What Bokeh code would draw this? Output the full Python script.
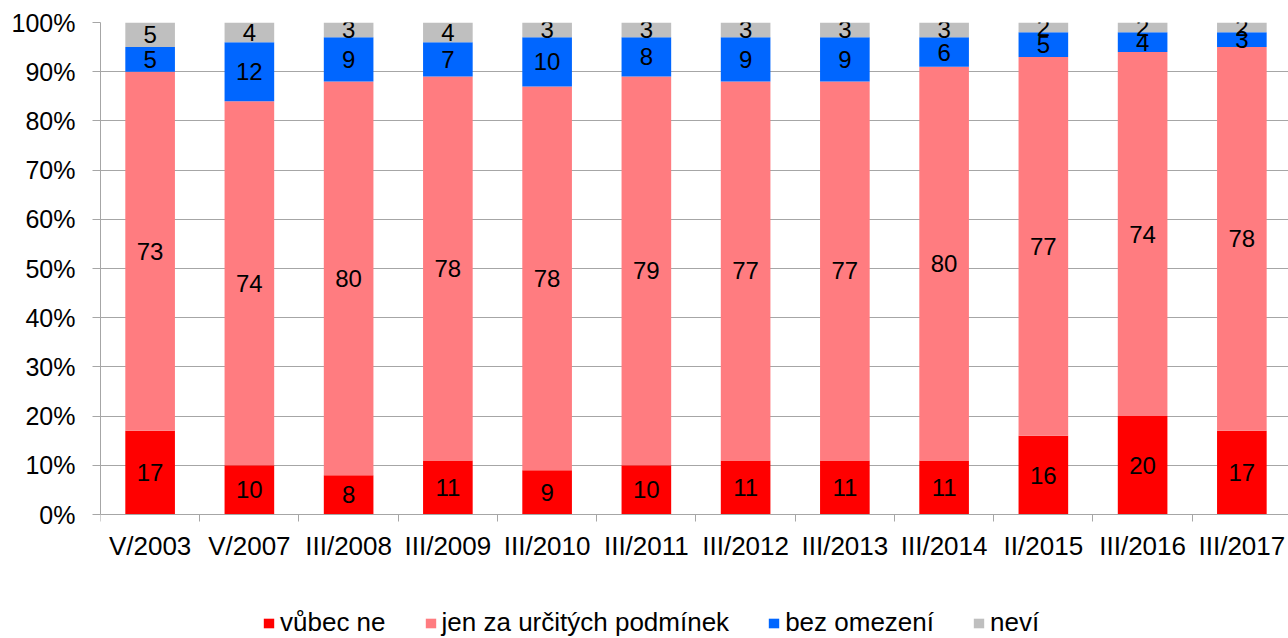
from bokeh.plotting import figure
from bokeh.models import (ColumnDataSource, FixedTicker, PrintfTickFormatter, Legend, LegendItem,
                          Range1d, LinearAxis)
from bokeh.core.properties import value
from bokeh.embed import file_html
from bokeh.resources import INLINE

categories = ["V/2003", "V/2007", "III/2008", "III/2009", "III/2010", "III/2011",
              "III/2012", "III/2013", "III/2014", "II/2015", "III/2016", "III/2017"]
vubec_ne = [17, 10, 8, 11, 9, 10, 11, 11, 11, 16, 20, 17]
jen_za = [73, 74, 80, 78, 78, 79, 77, 77, 80, 77, 74, 78]
bez_omezeni = [5, 12, 9, 7, 10, 8, 9, 9, 6, 5, 4, 3]
nevi = [5, 4, 3, 4, 3, 3, 3, 3, 3, 2, 2, 2]

series_names = ["vůbec ne", "jen za určitých podmínek", "bez omezení", "neví"]
series_keys = ["s0", "s1", "s2", "s3"]
colors = ["#FF0000", "#FF7C80", "#0066FF", "#BFBFBF"]
series = [vubec_ne, jen_za, bez_omezeni, nevi]

FONT = "Liberation Sans"
GRAY = "#A6A6A6"

xs = [i + 0.5 for i in range(len(categories))]
data = {"x": xs}
for k, s in zip(series_keys, series):
    data[k] = s
source = ColumnDataSource(data)

p = figure(width=1288, height=638, output_backend="svg", toolbar_location=None,
           x_range=Range1d(0, 11.97), y_range=Range1d(-25.2, 100),
           x_axis_location=None)
p.min_border_left = 100
p.min_border_right = 0
p.min_border_top = 22
p.min_border_bottom = 0
p.outline_line_color = None
p.background_fill_color = "white"

renderers = p.vbar_stack(series_keys, x="x", width=0.5, color=colors, line_color=None, source=source)

# labels
for idx, (k, s) in enumerate(zip(series_keys, series)):
    mids = []
    for j in range(len(categories)):
        base = sum(series[m][j] for m in range(idx))
        mids.append(base + s[j] / 2.0)
    lsrc = ColumnDataSource({"x": xs, "y": mids, "t": [str(v) for v in s]})
    p.text(x="x", y="y", text="t", source=lsrc, text_align="center", text_baseline="middle",
           text_font=value(FONT), text_font_size="24px", text_color="black")

# y axis
p.yaxis.ticker = FixedTicker(ticks=list(range(0, 101, 10)))
p.yaxis.formatter = PrintfTickFormatter(format="%d%%")
p.yaxis.bounds = (0, 100)
p.yaxis.major_label_text_font = FONT
p.yaxis.major_label_text_font_size = "25px"
p.yaxis.major_label_text_color = "black"
p.yaxis.axis_line_color = GRAY
p.yaxis.major_tick_line_color = GRAY
p.yaxis.major_tick_out = 8
p.yaxis.major_tick_in = 0
p.yaxis.minor_tick_line_color = None
p.yaxis.major_label_standoff = 17

# x axis, fixed at y = 0
xaxis = LinearAxis(fixed_location=0)
xaxis.ticker = FixedTicker(ticks=xs, minor_ticks=list(range(0, 13)))
xaxis.major_label_overrides = {x: c for x, c in zip(xs, categories)}
xaxis.major_label_text_font = FONT
xaxis.major_label_text_font_size = "26px"
xaxis.major_label_text_color = "black"
xaxis.axis_line_color = GRAY
xaxis.major_tick_line_color = None
xaxis.major_tick_out = 0
xaxis.major_tick_in = 0
xaxis.minor_tick_line_color = GRAY
xaxis.minor_tick_out = 7
xaxis.minor_tick_in = 0
xaxis.major_label_standoff = 9
p.add_layout(xaxis, "below")

p.xgrid.grid_line_color = None
p.ygrid.ticker = FixedTicker(ticks=list(range(0, 101, 10)))
p.ygrid.grid_line_color = GRAY
p.ygrid.level = "underlay"

legend = Legend(items=[LegendItem(label=n, renderers=[r]) for n, r in zip(series_names, renderers)],
                orientation="horizontal", location=(162, 0))
legend.glyph_width = 13
legend.glyph_height = 12
legend.label_standoff = 5
legend.spacing = 38
legend.padding = 0
legend.margin = 0
legend.border_line_color = None
legend.background_fill_alpha = 0
legend.label_text_font = FONT
legend.label_text_font_size = "26px"
legend.label_text_color = "black"
p.add_layout(legend, "center")

open("out.html", "w").write(file_html(p, INLINE))
